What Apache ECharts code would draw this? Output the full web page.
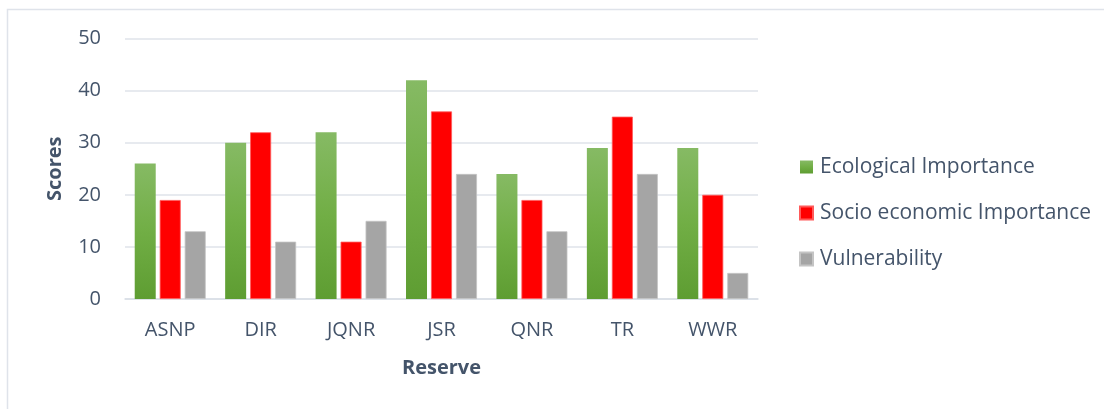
<!DOCTYPE html>
<html>
<head>
<meta charset="utf-8">
<script src="https://cdn.jsdelivr.net/npm/echarts@6/dist/echarts.min.js"></script>
<style>
  html, body { margin: 0; padding: 0; background: #fff; }
  #main { width: 1104px; height: 409px; }
</style>
</head>
<body>
<div id="main"></div>
<script>
  // reserves and their scores
  var categories = ['ASNP', 'DIR', 'JQNR', 'JSR', 'QNR', 'TR', 'WWR'];
  var ecological = [26, 30, 32, 42, 24, 29, 29];
  var socioEconomic = [19, 32, 11, 36, 19, 35, 20];
  var vulnerability = [13, 11, 15, 24, 13, 24, 5];
  var seriesNames = ['Ecological Importance', 'Socio economic Importance', 'Vulnerability'];

  var textColor = '#44546a';
  var fontFam = '"Open Sans", Lato, sans-serif';

  var chart = echarts.init(document.getElementById('main'));
  chart.setOption({
    animation: false,
    textStyle: { fontFamily: fontFam },
    graphic: [{
      type: 'rect',
      shape: { x: 7.5, y: 9.5, width: 1200, height: 500 },
      style: { fill: 'none', stroke: '#dfe3ea', lineWidth: 1.5 },
      silent: true
    }],
    grid: { left: 125, right: 346, top: 38.5, bottom: 110 },
    legend: {
      orient: 'vertical',
      left: 799,
      top: 156.5,
      padding: 0,
      itemWidth: 13,
      itemHeight: 13,
      itemGap: 25,
      icon: 'rect',
      textStyle: { color: textColor, fontSize: 21, fontFamily: fontFam, padding: [0, 0, 0, 2] },
      data: seriesNames
    },
    xAxis: {
      type: 'category',
      data: categories,
      name: 'Reserve',
      nameLocation: 'middle',
      nameGap: 59,
      nameTextStyle: { color: textColor, fontSize: 20, fontWeight: 'bold' },
      axisLine: { lineStyle: { color: '#d9dee6', width: 1.5 } },
      axisTick: { show: false },
      axisLabel: { color: textColor, fontSize: 20, margin: 21 }
    },
    yAxis: {
      type: 'value',
      min: 0,
      max: 50,
      interval: 10,
      name: 'Scores',
      nameLocation: 'middle',
      nameGap: 60,
      nameTextStyle: { color: textColor, fontSize: 20, fontWeight: 'bold' },
      axisLine: { show: false },
      axisTick: { show: false },
      axisLabel: { color: textColor, fontSize: 20, margin: 24 },
      splitLine: { lineStyle: { color: '#dfe3ea', width: 1.5 } }
    },
    series: [
      {
        name: seriesNames[0],
        type: 'bar',
        data: ecological,
        barWidth: 21,
        barGap: '19%',
        itemStyle: {
          color: new echarts.graphic.LinearGradient(0, 0, 0, 1, [
            { offset: 0, color: '#86ba64' },
            { offset: 0.5, color: '#71ae45' },
            { offset: 1, color: '#5e9d32' }
          ])
        }
      },
      {
        name: seriesNames[1],
        type: 'bar',
        data: socioEconomic,
        barWidth: 21,
        barGap: '19%',
        itemStyle: { color: '#ff0000', borderColor: '#ff5a5a', borderWidth: 0.8 }
      },
      {
        name: seriesNames[2],
        type: 'bar',
        data: vulnerability,
        barWidth: 21,
        barGap: '19%',
        itemStyle: { color: '#a5a5a5', borderColor: '#c4c4c4', borderWidth: 0.8 }
      }
    ]
  });
</script>
</body>
</html>
